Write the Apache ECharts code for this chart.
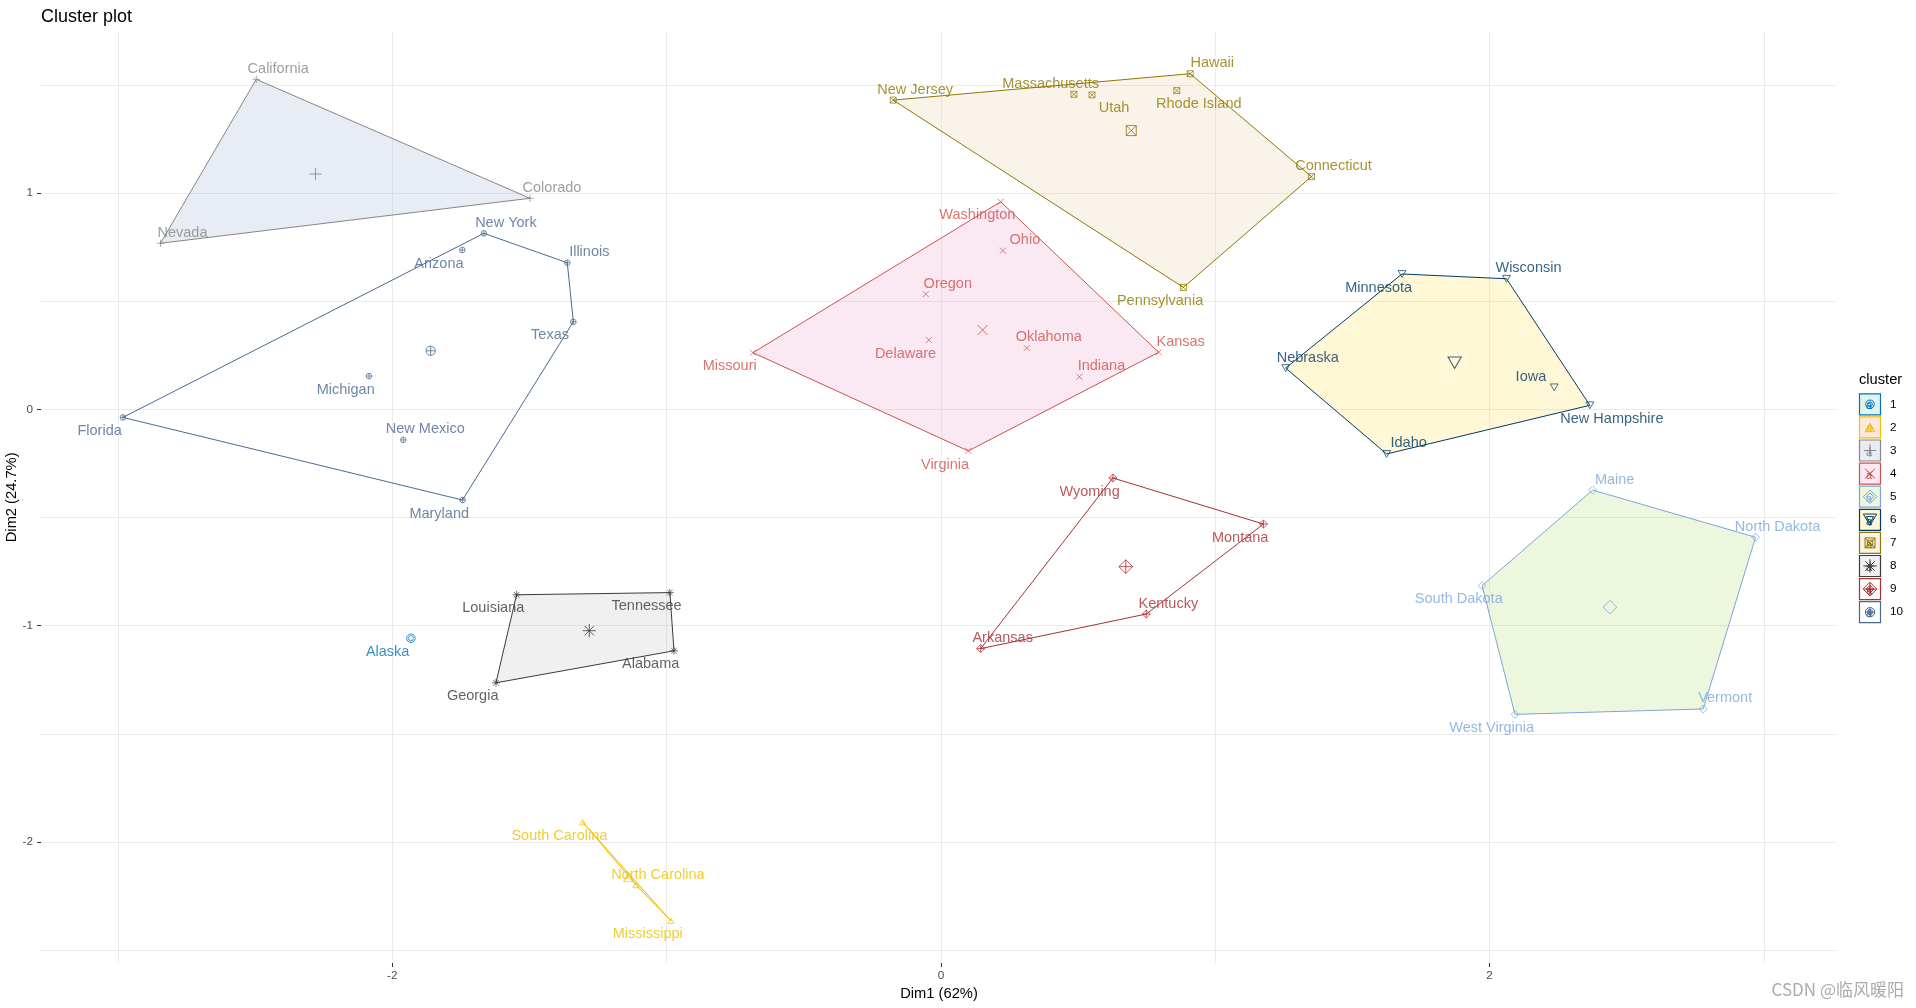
<!DOCTYPE html>
<html>
<head>
<meta charset="utf-8">
<script src="https://cdn.jsdelivr.net/npm/echarts@6/dist/echarts.min.js"></script>
<style>
html, body { margin: 0; padding: 0; background: #ffffff; }
#chart { width: 1916px; height: 1008px; }
</style>
</head>
<body>
<div id="chart"></div>
<script>
// ---------------- data ----------------
const states = ['Alaska',
  'South Carolina', 'North Carolina', 'Mississippi',
  'California', 'Colorado', 'Nevada',
  'Washington', 'Ohio', 'Oregon', 'Delaware', 'Oklahoma', 'Indiana', 'Kansas', 'Missouri', 'Virginia',
  'Maine', 'North Dakota', 'South Dakota', 'Vermont', 'West Virginia',
  'Minnesota', 'Wisconsin', 'Nebraska', 'Iowa', 'New Hampshire', 'Idaho',
  'New Jersey', 'Massachusetts', 'Utah', 'Rhode Island', 'Hawaii', 'Connecticut', 'Pennsylvania',
  'Louisiana', 'Tennessee', 'Alabama', 'Georgia',
  'Wyoming', 'Montana', 'Kentucky', 'Arkansas',
  'Arizona', 'New York', 'Illinois', 'Texas', 'Michigan', 'Florida', 'New Mexico', 'Maryland'];

const dim1 = [-1.932,
  -1.306, -1.112, -0.984,
  -2.496, -1.498, -2.845,
  0.218, 0.226, -0.055, -0.044, 0.313, 0.505, 0.794, -0.685, 0.100,
  2.376, 2.970, 1.973, 2.779, 2.093,
  1.681, 2.062, 1.257, 2.236, 2.366, 1.625,
  -0.174, 0.485, 0.551, 0.860, 0.909, 1.351, 0.884,
  -1.547, -0.988, -0.973, -1.622,
  0.627, 1.176, 0.749, 0.145,
  -1.745, -1.666, -1.362, -1.340, -2.085, -2.982, -1.960, -1.744];

const dim2 = [-1.058,
  -1.908, -2.199, -2.364,
  1.526, 0.976, 0.768,
  0.960, 0.734, 0.533, 0.321, 0.284, 0.151, 0.264, 0.262, -0.192,
  -0.373, -0.591, -0.815, -1.385, -1.410,
  0.626, 0.604, 0.191, 0.102, 0.019, -0.206,
  1.430, 1.457, 1.454, 1.474, 1.552, 1.076, 0.564,
  -0.857, -0.847, -1.116, -1.264,
  -0.317, -0.530, -0.946, -1.106,
  0.737, 0.814, 0.678, 0.405, 0.154, -0.037, -0.141, -0.419];

const clusterOf = [1,
  2, 2, 2,
  3, 3, 3,
  4, 4, 4, 4, 4, 4, 4, 4, 4,
  5, 5, 5, 5, 5,
  6, 6, 6, 6, 6, 6,
  7, 7, 7, 7, 7, 7, 7,
  8, 8, 8, 8,
  9, 9, 9, 9,
  10, 10, 10, 10, 10, 10, 10, 10];

const clusterNames = ['1', '2', '3', '4', '5', '6', '7', '8', '9', '10'];
const centroidDim1 = [-1.932, -1.138, -2.280, 0.152, 2.439, 1.873, 0.694, -1.282, 0.674, -1.860];
const centroidDim2 = [-1.058, -2.163, 1.088, 0.367, -0.914, 0.216, 1.289, -1.023, -0.727, 0.271];

// convex hull vertices of each cluster, in drawing order
const hulls = [
  ['Alaska'],
  ['South Carolina', 'North Carolina', 'Mississippi'],
  ['California', 'Colorado', 'Nevada'],
  ['Washington', 'Kansas', 'Virginia', 'Missouri'],
  ['Maine', 'North Dakota', 'Vermont', 'West Virginia', 'South Dakota'],
  ['Minnesota', 'Wisconsin', 'New Hampshire', 'Idaho', 'Nebraska'],
  ['New Jersey', 'Hawaii', 'Connecticut', 'Pennsylvania'],
  ['Louisiana', 'Tennessee', 'Alabama', 'Georgia'],
  ['Wyoming', 'Montana', 'Kentucky', 'Arkansas'],
  ['Florida', 'New York', 'Illinois', 'Texas', 'Maryland']
];

const xTickValues = [-2, 0, 2];
const yTickValues = [-2, -1, 0, 1];
const xGridValues = [-3, -2, -1, 0, 1, 2, 3];
const yGridValues = [-2.5, -2, -1.5, -1, -0.5, 0, 0.5, 1, 1.5];
const xLimits = [-3.2807, 3.2669];
const yLimits = [-2.5594, 1.7462];

// ---------------- layout / style (not data) ----------------
const labelSide = ['ll',
  'll', 'ur', 'll',
  'ur', 'ur', 'ur',
  'll', 'ur', 'ur', 'll', 'ur', 'ur', 'ur', 'll', 'll',
  'ur', 'ur', 'll', 'ur', 'll',
  'll', 'ur', 'ur', 'ul', 'lr', 'ur',
  'ur', 'ul', 'lr', 'lr', 'ur', 'ur', 'll',
  'll', 'll', 'll', 'll',
  'll', 'll', 'ur', 'ur',
  'll', 'ur', 'ur', 'll', 'll', 'll', 'ur', 'll'];
const sideOffset = { ur: [22, -10.5], ll: [-23.3, 13.6], ul: [-23.3, -10.3], lr: [22, 13.3] };

const lineColors = ['#0073C2', '#EFC000', '#868686', '#CD534C', '#7AA6DC', '#003C67', '#8F7700', '#3B3B3B', '#A73030', '#4A6990'];
const fillColors = ['#66C2A5', '#FC8D62', '#8DA0CB', '#E78AC3', '#A6D854', '#FFD92F', '#E5C494', '#B3B3B3', null, null];

const shapePaths = [
  'M0,5A5,5,0,1,1,10,5A5,5,0,1,1,0,5Z',
  'M5,0L10,8.66L0,8.66Z',
  'M0,5L10,5M5,0L5,10',
  'M0,0L10,10M0,10L10,0',
  'M5,0L10,5L5,10L0,5Z',
  'M0,0L10,0L5,8.66Z',
  'M0,0L10,0L10,10L0,10ZM0,0L10,10M0,10L10,0',
  'M0,5L10,5M5,0L5,10M1.46,1.46L8.54,8.54M1.46,8.54L8.54,1.46',
  'M5,0L10,5L5,10L0,5ZM5,0L5,10M0,5L10,5',
  'M0,5A5,5,0,1,1,10,5A5,5,0,1,1,0,5ZM0,5L10,5M5,0L5,10'
];
const centroidSizes = [[8.5, 8.5], [10, 8.7], [12.5, 12.5], [10, 10], [13.5, 13.5], [13.3, 11.5], [10, 10], [13.3, 13.3], [13.7, 13.7], [9.3, 9.3]];
const pointScale = 0.55;

const FONT = '"Liberation Sans", Arial, sans-serif';

function hexToRgba(hex, a) {
  const n = parseInt(hex.slice(1), 16);
  return 'rgba(' + ((n >> 16) & 255) + ',' + ((n >> 8) & 255) + ',' + (n & 255) + ',' + a + ')';
}

const indexOf = {};
states.forEach((s, i) => { indexOf[s] = i; });

const series = [];

// hull polygons
hulls.forEach((names, k) => {
  if (names.length < 3) return;
  const pts = names.map(n => [dim1[indexOf[n]], dim2[indexOf[n]]]);
  const fill = fillColors[k] ? hexToRgba(fillColors[k], 0.2) : 'rgba(0,0,0,0)';
  series.push({
    type: 'custom',
    name: 'hull' + clusterNames[k],
    coordinateSystem: 'cartesian2d',
    silent: true,
    z: 1,
    data: pts,
    encode: { x: 0, y: 1 },
    renderItem: function (params, api) {
      if (params.dataIndex !== 0) return null;
      return {
        type: 'polygon',
        shape: { points: pts.map(p => api.coord(p)) },
        style: { fill: fill, stroke: lineColors[k], lineWidth: 1 }
      };
    }
  });
});

// points with labels
clusterNames.forEach((cname, k) => {
  const data = [];
  states.forEach((s, i) => {
    if (clusterOf[i] !== k + 1) return;
    data.push({
      name: s,
      value: [dim1[i], dim2[i]],
      label: { offset: sideOffset[labelSide[i]] }
    });
  });
  series.push({
    type: 'scatter',
    name: 'points' + cname,
    silent: true,
    z: 3,
    symbol: 'path://' + shapePaths[k],
    symbolSize: [centroidSizes[k][0] * pointScale + 0.5, centroidSizes[k][1] * pointScale + 0.5],
    itemStyle: { color: 'rgba(0,0,0,0)', borderColor: lineColors[k], borderWidth: 0.9 },
    label: {
      show: true,
      position: 'inside',
      formatter: '{b}',
      color: lineColors[k],
      fontSize: 14.5,
      fontFamily: FONT,
      align: 'center',
      verticalAlign: 'middle'
    },
    data: data
  });
});

// centroids
clusterNames.forEach((cname, k) => {
  series.push({
    type: 'scatter',
    name: 'centroid' + cname,
    silent: true,
    z: 4,
    symbol: 'path://' + shapePaths[k],
    symbolSize: centroidSizes[k],
    itemStyle: { color: 'rgba(0,0,0,0)', borderColor: lineColors[k], borderWidth: 1 },
    data: [[centroidDim1[k], centroidDim2[k]]]
  });
});

// legend key glyphs built from primitive graphic elements
function keyGlyph(k, cx, cy, w, h, color) {
  const st = { fill: 'none', stroke: color, lineWidth: 1 };
  const L = cx - w / 2, R = cx + w / 2, T = cy - h / 2, B = cy + h / 2;
  const line = (x1, y1, x2, y2) => ({ type: 'line', shape: { x1: x1, y1: y1, x2: x2, y2: y2 }, style: st });
  const poly = pts => ({ type: 'polygon', shape: { points: pts }, style: st });
  const circ = () => ({ type: 'circle', shape: { cx: cx, cy: cy, r: w / 2 }, style: st });
  switch (k) {
    case 0: return [circ()];
    case 1: return [poly([[cx, T], [R, B], [L, B]])];
    case 2: return [line(L, cy, R, cy), line(cx, T, cx, B)];
    case 3: return [line(L, T, R, B), line(L, B, R, T)];
    case 4: return [poly([[cx, T], [R, cy], [cx, B], [L, cy]])];
    case 5: return [poly([[L, T], [R, T], [cx, B]])];
    case 6: return [poly([[L, T], [R, T], [R, B], [L, B]]), line(L, T, R, B), line(L, B, R, T)];
    case 7: {
      const d = w * 0.354;
      return [line(L, cy, R, cy), line(cx, T, cx, B), line(cx - d, cy - d, cx + d, cy + d), line(cx - d, cy + d, cx + d, cy - d)];
    }
    case 8: return [poly([[cx, T], [R, cy], [cx, B], [L, cy]]), line(L, cy, R, cy), line(cx, T, cx, B)];
    default: return [circ(), line(L, cy, R, cy), line(cx, T, cx, B)];
  }
}

const legendEls = [];
legendEls.push({
  type: 'text', x: 1859, y: 380,
  style: { text: 'cluster', fill: '#000', font: '14.7px ' + FONT, textAlign: 'left', textVerticalAlign: 'middle' }
});
clusterNames.forEach((cname, k) => {
  const cy = 404.3 + 23.1 * k;
  const fill = fillColors[k] ? hexToRgba(fillColors[k], 0.2) : '#ffffff';
  legendEls.push({
    type: 'rect', shape: { x: 1859.5, y: cy - 10.5, width: 21, height: 21 },
    style: { fill: fill, stroke: lineColors[k], lineWidth: 1.2 }
  });
  const sz = centroidSizes[k];
  [1, pointScale].forEach(f => {
    keyGlyph(k, 1870, cy, sz[0] * f, sz[1] * f, lineColors[k]).forEach(el => legendEls.push(el));
  });
  legendEls.push({
    type: 'text', x: 1869, y: cy + 2,
    style: { text: 'a', fill: lineColors[k], font: '11px ' + FONT, textAlign: 'center', textVerticalAlign: 'middle' }
  });
  legendEls.push({
    type: 'text', x: 1890, y: cy,
    style: { text: cname, fill: '#000', font: '11.7px ' + FONT, textAlign: 'left', textVerticalAlign: 'middle' }
  });
});
legendEls.push({
  type: 'text', x: 1904, y: 990,
  style: { text: 'CSDN @临风暖阳', fill: '#ABABAB', font: '17px "Noto Sans CJK SC", ' + FONT, textAlign: 'right', textVerticalAlign: 'middle' }
});

const gridAxisX = {
  type: 'value', min: xLimits[0], max: xLimits[1], position: 'bottom',
  axisLine: { show: false, onZero: false },
  axisTick: { show: false, customValues: xGridValues },
  axisLabel: { show: false },
  splitLine: { show: true, lineStyle: { color: '#EBEBEB', width: 1 } }
};
const labelAxisX = {
  type: 'value', min: xLimits[0], max: xLimits[1], position: 'bottom',
  axisLine: { show: false, onZero: false },
  axisTick: { show: true, customValues: xTickValues, length: 4, lineStyle: { color: '#333333', width: 1 } },
  axisLabel: { show: true, customValues: xTickValues, color: '#4D4D4D', fontSize: 11.7, fontFamily: FONT, margin: 7 },
  splitLine: { show: false },
  name: 'Dim1 (62%)', nameLocation: 'middle', nameGap: 22,
  nameTextStyle: { color: '#000', fontSize: 14.7, fontFamily: FONT }
};
const gridAxisY = {
  type: 'value', min: yLimits[0], max: yLimits[1], position: 'left',
  axisLine: { show: false, onZero: false },
  axisTick: { show: false, customValues: yGridValues },
  axisLabel: { show: false },
  splitLine: { show: true, lineStyle: { color: '#EBEBEB', width: 1 } },
  name: 'Dim2 (24.7%)', nameLocation: 'middle', nameGap: 22, nameRotate: 90, nameMoveOverlap: false,
  nameTextStyle: { color: '#000', fontSize: 14.7, fontFamily: FONT }
};
const labelAxisY = {
  type: 'value', min: yLimits[0], max: yLimits[1], position: 'left',
  axisLine: { show: false, onZero: false },
  axisTick: { show: true, customValues: yTickValues, length: 4, lineStyle: { color: '#333333', width: 1 } },
  axisLabel: { show: true, customValues: yTickValues, color: '#4D4D4D', fontSize: 11.7, fontFamily: FONT, margin: 8 },
  splitLine: { show: false }
};

const chart = echarts.init(document.getElementById('chart'), null, { renderer: 'canvas' });
chart.setOption({
  animation: false,
  backgroundColor: '#ffffff',
  textStyle: { fontFamily: FONT },
  title: {
    text: 'Cluster plot', left: 36, top: 3,
    textStyle: { fontSize: 18, fontWeight: 'normal', color: '#000', fontFamily: FONT }
  },
  grid: { left: 41, right: 79, top: 31.7, bottom: 45, containLabel: false, outerBoundsMode: 'none' },
  xAxis: [gridAxisX, labelAxisX],
  yAxis: [gridAxisY, labelAxisY],
  series: series,
  graphic: { elements: legendEls }
});
</script>
</body>
</html>
